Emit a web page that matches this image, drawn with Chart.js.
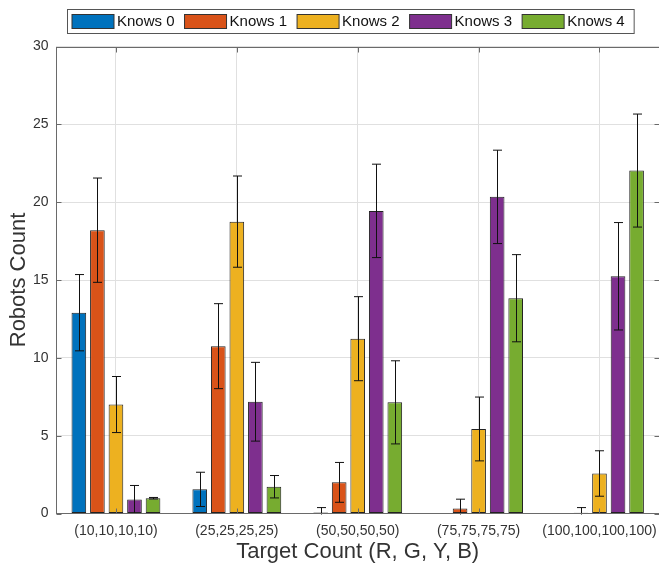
<!DOCTYPE html>
<html>
<head>
<meta charset="utf-8">
<script src="https://cdn.jsdelivr.net/npm/chart.js@4.4.0/dist/chart.umd.min.js"></script>
<style>
  html, body { margin: 0; padding: 0; background: #fff; overflow: hidden; }
  #wrap { width: 666px; height: 566px; }
</style>
</head>
<body>
<div id="wrap"><canvas id="chart" width="666" height="566"></canvas></div>
<script>
const categories = ['(10,10,10,10)', '(25,25,25,25)', '(50,50,50,50)', '(75,75,75,75)', '(100,100,100,100)'];
const seriesNames = ['Knows 0', 'Knows 1', 'Knows 2', 'Knows 3', 'Knows 4'];

const knows0    = [12.9, 1.55, 0.06, 0, 0];
const knows0Err = [2.45, 1.1, 0.32, 0, 0];
const knows1    = [18.2, 10.75, 2.0, 0.32, 0.05];
const knows1Err = [3.35, 2.73, 1.28, 0.6, 0.33];
const knows2    = [7.0, 18.75, 11.23, 5.43, 2.57];
const knows2Err = [1.8, 2.93, 2.7, 2.05, 1.46];
const knows3    = [0.9, 7.18, 19.44, 20.34, 15.24];
const knows3Err = [0.9, 2.53, 3.0, 3.0, 3.45];
const knows4    = [0.98, 1.72, 7.14, 13.83, 22.03];
const knows4Err = [0.05, 0.72, 2.67, 2.8, 3.63];

const yTicks = [0, 5, 10, 15, 20, 25, 30];

const colors = ['#0072BD', '#D95319', '#EDB120', '#7E2F8E', '#77AC30'];
const values = [knows0, knows1, knows2, knows3, knows4];
const errors = [knows0Err, knows1Err, knows2Err, knows3Err, knows4Err];

const font      = "'Liberation Sans', Arial, Helvetica, sans-serif";
const textColor = '#333333';
const axisColor = '#6a6a6a';
const gridColor = '#e0e0e0';

// error bars, drawn through the y scale
const errorBars = {
  id: 'errorBars',
  afterDatasetsDraw(chart) {
    const ctx = chart.ctx, y = chart.scales.y, a = chart.chartArea;
    ctx.save();
    ctx.beginPath(); ctx.rect(a.left, a.top, a.right - a.left, a.bottom - a.top + 1); ctx.clip();
    ctx.strokeStyle = '#111'; ctx.lineWidth = 1;
    chart.data.datasets.forEach((ds, i) => {
      chart.getDatasetMeta(i).data.forEach((bar, j) => {
        const v = ds.data[j], e = ds.errors[j];
        const x = Math.round(bar.x) + 0.5;
        const top = y.getPixelForValue(v + e), bot = y.getPixelForValue(v - e);
        ctx.beginPath();
        ctx.moveTo(x, top); ctx.lineTo(x, bot);
        ctx.moveTo(x - 4.5, top); ctx.lineTo(x + 4.5, top);
        ctx.moveTo(x - 4.5, bot); ctx.lineTo(x + 4.5, bot);
        ctx.stroke();
      });
    });
    ctx.restore();
  }
};

// box, inward ticks and the legend, matlab style
const frame = {
  id: 'frame',
  afterDraw(chart) {
    const ctx = chart.ctx, a = chart.chartArea, x = chart.scales.x, y = chart.scales.y;
    ctx.save();
    ctx.strokeStyle = axisColor; ctx.lineWidth = 1;
    const L = Math.round(a.left) + 0.5, R = Math.round(a.right) - 0.5;
    const T = Math.round(a.top) + 0.5, B = Math.round(a.bottom) - 0.5;
    ctx.strokeRect(L, T, R - L, B - T);
    ctx.beginPath();
    yTicks.forEach(v => {
      const p = Math.round(y.getPixelForValue(v)) + 0.5;
      ctx.moveTo(L, p); ctx.lineTo(L + 5, p);
      ctx.moveTo(R, p); ctx.lineTo(R - 5, p);
    });
    categories.forEach((c, i) => {
      const p = Math.round(x.getPixelForValue(i)) + 0.5;
      ctx.moveTo(p, B); ctx.lineTo(p, B - 5);
      ctx.moveTo(p, T); ctx.lineTo(p, T + 5);
    });
    ctx.stroke();

    // legend
    ctx.font = '15px ' + font;
    const lx = 67.5, ly = 9.5, lh = 24;
    let cx = lx + 4.5;
    const items = seriesNames.map(n => ({ n, w: ctx.measureText(n).width }));
    const total = items.reduce((s, it) => s + 42 + 3 + it.w + 10, 0);
    ctx.fillStyle = '#fff';
    ctx.fillRect(lx, ly, total + 4, lh);
    ctx.strokeStyle = '#555'; ctx.strokeRect(lx, ly, total + 4, lh);
    items.forEach((it, i) => {
      ctx.fillStyle = colors[i];
      ctx.fillRect(cx, ly + 5, 42, 14);
      ctx.strokeStyle = '#333'; ctx.strokeRect(cx, ly + 5, 42, 14);
      ctx.fillStyle = '#111'; ctx.textBaseline = 'middle'; ctx.textAlign = 'left';
      ctx.fillText(it.n, cx + 45, ly + lh / 2 + 0.5);
      cx += 42 + 3 + it.w + 10;
    });
    ctx.restore();
  }
};

new Chart(document.getElementById('chart'), {
  type: 'bar',
  data: {
    labels: categories,
    datasets: seriesNames.map((n, i) => ({
      label: n,
      data: values[i],
      errors: errors[i],
      backgroundColor: colors[i],
      borderColor: '#222',
      borderWidth: 1,
      borderSkipped: false,
      categoryPercentage: 0.767,
      barPercentage: 0.79,
    })),
  },
  options: {
    responsive: false,
    animation: false,
    layout: { padding: { left: 0, right: 3, top: 46.5, bottom: 0 } },
    plugins: { legend: { display: false }, tooltip: { enabled: false } },
    scales: {
      x: {
        grid: { color: gridColor, offset: false, drawTicks: false },
        border: { display: false },
        ticks: { color: textColor, font: { family: font, size: 14 }, padding: 9, maxRotation: 0, autoSkip: false },
        title: { display: true, text: 'Target Count (R, G, Y, B)', color: textColor, font: { family: font, size: 22 }, padding: { top: 0, bottom: 1 } },
        afterFit(scale) { scale.height = 52.5; },
      },
      y: {
        min: 0, max: 30,
        afterBuildTicks(scale) { scale.ticks = yTicks.map(v => ({ value: v })); },
        grid: { color: gridColor, drawTicks: false },
        border: { display: false },
        ticks: { color: textColor, font: { family: font, size: 14 }, padding: 7 },
        title: { display: true, text: 'Robots Count', color: textColor, font: { family: font, size: 22 }, padding: { top: 6, bottom: 0 } },
        afterFit(scale) { scale.width = 55.5; },
      },
    },
  },
  plugins: [errorBars, frame],
});
</script>
</body>
</html>
